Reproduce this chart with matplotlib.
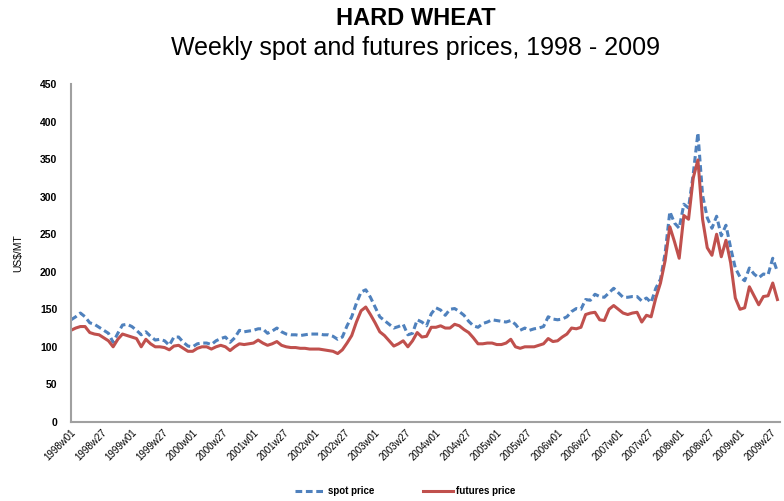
import matplotlib
matplotlib.use("Agg")
import matplotlib.pyplot as plt

# weekly prices read every 4 weeks, US$/MT, starting 1998w01
spot_price = [136, 140, 145, 140, 132, 130, 126, 122, 118, 106,
              118, 129, 130, 127, 122, 116, 120, 114, 109, 110,
              108, 102, 113, 113, 106, 101, 100, 104, 105, 105,
              103, 108, 111, 113, 106, 112, 122, 120, 121, 122,
              124, 124, 118, 121, 125, 120, 117, 116, 116, 115,
              116, 117, 117, 117, 116, 116, 114, 110, 113, 128,
              140, 158, 173, 176, 166, 153, 140, 135, 130, 125,
              127, 130, 116, 118, 136, 133, 128, 144, 152, 149,
              142, 150, 151, 147, 142, 134, 128, 126, 131, 133,
              136, 135, 134, 133, 135, 130, 122, 125, 122, 124,
              125, 127, 140, 137, 136, 137, 140, 147, 151, 150,
              163, 162, 170, 167, 166, 172, 178, 172, 166, 166,
              167, 167, 161, 165, 159, 178, 190, 225, 280, 265,
              258, 290, 285, 330, 385, 302, 272, 258, 274, 248,
              262, 232, 205, 193, 188, 205, 197, 192, 197, 196,
              218, 200]

futures_price = [122, 125, 127, 127, 119, 117, 116, 112, 108, 100,
                 110, 117, 115, 113, 111, 100, 110, 104, 100, 100,
                 99, 96, 101, 102, 98, 94, 94, 98, 100, 100,
                 97, 100, 102, 100, 95, 100, 104, 103, 104, 105,
                 109, 105, 102, 104, 107, 102, 100, 99, 99, 98,
                 98, 97, 97, 97, 96, 95, 94, 91, 96, 105,
                 115, 133, 148, 153, 143, 132, 120, 115, 108, 101,
                 104, 108, 100, 108, 119, 113, 114, 126, 126, 128,
                 125, 125, 130, 128, 123, 119, 112, 104, 104, 105,
                 105, 103, 103, 105, 110, 100, 98, 100, 100, 100,
                 102, 104, 111, 107, 108, 113, 117, 125, 124, 126,
                 143, 145, 146, 136, 135, 150, 155, 150, 145, 143,
                 145, 146, 133, 142, 140, 165, 185, 215, 260, 240,
                 218, 275, 270, 325, 349, 270, 232, 222, 250, 220,
                 242, 212, 165, 150, 152, 180, 168, 156, 167, 168,
                 185, 163]

week = [4 * i for i in range(len(spot_price))]

tick_labels = []
for yr in range(1998, 2010):
    tick_labels += [f"{yr}w01", f"{yr}w27"]
tick_pos = [26 * i for i in range(len(tick_labels))]

plt.rcParams['font.family'] = ['Liberation Sans', 'DejaVu Sans']

fig = plt.figure(figsize=(7.84, 5.01), dpi=100)
ax = fig.add_axes([0.0906, 0.158, 0.904, 0.674])

ax.plot(week, spot_price, color="#4F81BD", linewidth=2.2,
        linestyle=(0, (2.2, 1.2)), label="spot price")
ax.plot(week, futures_price, color="#C0504D", linewidth=2.2,
        label="futures price")

ax.set_ylim(0, 450)
ax.set_yticks(range(0, 451, 50))
ax.set_xlim(0, 606)
ax.set_xticks(tick_pos)
ax.set_xticklabels(tick_labels, rotation=45, ha="right", rotation_mode="anchor")

for s in ["top", "right"]:
    ax.spines[s].set_visible(False)
for s in ["left", "bottom"]:
    ax.spines[s].set_color("#A0A0A0")
    ax.spines[s].set_linewidth(1.5)
ax.tick_params(axis="y", length=0, labelsize=7.5, pad=10)
ax.tick_params(axis="x", length=0, labelsize=7, pad=4)
for t in ax.get_yticklabels():
    t.set_fontweight("bold")

ax.set_ylabel("US$/MT", fontsize=7.5, labelpad=12)

fig.text(0.53, 0.963, "HARD WHEAT", ha="center", va="center",
         fontsize=17, fontweight="bold")
fig.text(0.53, 0.905, "Weekly spot and futures prices, 1998 - 2009",
         ha="center", va="center", fontsize=18)

ax.legend(loc="center", bbox_to_anchor=(0.472, -0.205), ncol=2, frameon=False,
          handlelength=3, handletextpad=0.4, columnspacing=5,
          prop={"weight": "bold", "size": 7})

plt.savefig("out.png", dpi=100)
